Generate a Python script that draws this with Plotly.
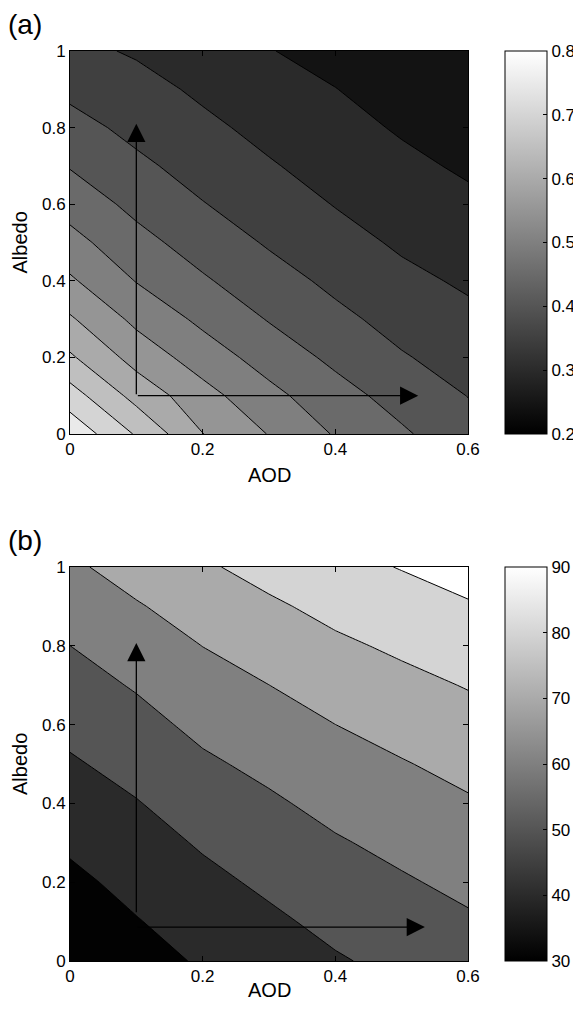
import plotly.graph_objects as go

# ---------------- data ----------------
AOD = [0.0, 0.1, 0.2, 0.3, 0.4, 0.5, 0.6]
ALBEDO = [0.0, 0.1, 0.2, 0.3, 0.4, 0.5, 0.6, 0.7, 0.8, 0.9, 1.0]

# panel (a): rows = albedo, columns = AOD
Z_A = [
    [0.787, 0.695, 0.601, 0.548, 0.496, 0.457, 0.418],
    [0.722, 0.633, 0.568, 0.514, 0.469, 0.431, 0.399],
    [0.657, 0.581, 0.526, 0.479, 0.439, 0.404, 0.380],
    [0.606, 0.538, 0.489, 0.447, 0.412, 0.383, 0.361],
    [0.557, 0.498, 0.456, 0.420, 0.389, 0.362, 0.343],
    [0.517, 0.466, 0.428, 0.395, 0.368, 0.343, 0.326],
    [0.480, 0.437, 0.402, 0.375, 0.348, 0.327, 0.310],
    [0.447, 0.410, 0.381, 0.354, 0.332, 0.311, 0.293],
    [0.417, 0.387, 0.360, 0.337, 0.316, 0.295, 0.277],
    [0.389, 0.366, 0.342, 0.321, 0.301, 0.278, 0.260],
    [0.362, 0.345, 0.324, 0.302, 0.283, 0.263, 0.244],
]

# panel (b)
Z_B = [
    [30.4, 36.2, 41.1, 45.1, 49.1, 52.4, 55.5],
    [34.1, 39.5, 44.3, 48.3, 52.4, 55.7, 58.8],
    [37.8, 42.8, 47.6, 51.7, 55.8, 59.0, 62.2],
    [41.5, 46.1, 51.0, 55.2, 59.1, 62.4, 65.6],
    [45.2, 49.5, 54.7, 58.6, 62.7, 65.9, 69.0],
    [48.9, 53.2, 58.5, 62.3, 66.3, 69.4, 72.7],
    [52.6, 57.0, 62.3, 66.1, 69.98, 73.4, 76.6],
    [56.3, 60.8, 66.2, 69.96, 74.1, 77.4, 80.5],
    [59.98, 65.0, 70.1, 74.2, 78.3, 81.6, 84.8],
    [64.2, 69.2, 74.4, 78.5, 82.7, 86.0, 89.2],
    [68.3, 74.0, 78.7, 83.3, 87.2, 90.4, 93.5],
]

LEVELS_A = (0.30, 0.75, 0.05)
LEVELS_B = (40, 90, 10)
CLIM_A = (0.2, 0.8)
CLIM_B = (30, 90)

CBAR_TICKS_A = [0.2, 0.3, 0.4, 0.5, 0.6, 0.7, 0.8]
CBAR_TICKS_B = [30, 40, 50, 60, 70, 80, 90]
X_TICKS = [0, 0.2, 0.4, 0.6]
X_TICKTEXT = ["0", "0.2", "0.4", "0.6"]
Y_TICKS = [0, 0.2, 0.4, 0.6, 0.8, 1.0]
Y_TICKTEXT = ["0", "0.2", "0.4", "0.6", "0.8", "1"]

# arrows: (tail_x, tail_y, head_x, head_y)
ARROWS_A = [(0.1, 0.1, 0.1, 0.81), (0.1, 0.1, 0.525, 0.1)]
ARROWS_B = [(0.1, 0.12, 0.1, 0.807), (0.1, 0.086, 0.535, 0.086)]

# ---------------- helpers ----------------
PAGE_OFF = 8             # default body margin of the page
W, H = 581 - PAGE_OFF, 1013 - PAGE_OFF
FONT = "Liberation Sans, Arial, Helvetica, sans-serif"


def px_x(p):
    return (p - PAGE_OFF) / W


def px_y(p):
    return 1 - (p - PAGE_OFF) / H


def gray(v, clim):
    g = (v - clim[0]) / (clim[1] - clim[0])
    g = min(max(g, 0.0), 1.0)
    c = int(round(g * 255))
    return f"rgb({c},{c},{c})"


def band_colorscale(z, levels, clim):
    start, end, size = levels
    n = int(round((end - start) / size)) + 1
    zmin = min(min(r) for r in z)
    vals = [zmin] + [start + k * size for k in range(n)]
    cs = []
    for j, v in enumerate(vals):
        col = gray(v, clim)
        lo = max(0.0, (j - 0.5) / n)
        hi = min(1.0, (j + 0.5) / n)
        cs.append([lo, col])
        cs.append([hi, col])
    return cs


GRAY_SCALE = [[0, "rgb(0,0,0)"], [1, "rgb(255,255,255)"]]

# plot areas in page pixels
PLOT_X = (70, 468)
PLOT_A_Y = (51, 434)
PLOT_B_Y = (567, 961)
CBAR_X = 505
CBAR_W = 42
TICK_FONT = 17

fig = go.Figure()


def add_panel(z, levels, clim, xa, ya, py, ticks):
    start, end, size = levels
    fig.add_trace(go.Contour(
        x=AOD, y=ALBEDO, z=z,
        xaxis=xa, yaxis=ya,
        contours=dict(start=start, end=end, size=size, coloring="fill", showlines=True),
        colorscale=band_colorscale(z, levels, clim),
        line=dict(color="black", width=1, smoothing=0),
        showscale=False, hoverinfo="skip",
    ))
    fig.add_trace(go.Scatter(
        x=[AOD[0]], y=[ALBEDO[0]], xaxis=xa, yaxis=ya, mode="markers",
        marker=dict(size=1, opacity=0, color=[clim[0]], colorscale=GRAY_SCALE,
                    cmin=clim[0], cmax=clim[1], showscale=True,
                    colorbar=dict(
                        x=px_x(CBAR_X), xanchor="left", xpad=0, ypad=0,
                        y=(px_y(py[0]) + px_y(py[1])) / 2, yanchor="middle",
                        len=(py[1] - py[0]) / H, lenmode="fraction",
                        thickness=CBAR_W, thicknessmode="pixels",
                        outlinecolor="black", outlinewidth=1,
                        tickvals=ticks, ticktext=[f"{t:g}" for t in ticks],
                        ticks="inside", ticklen=4, tickcolor="black",
                        tickfont=dict(size=TICK_FONT, family=FONT, color="black"),
                    )),
        hoverinfo="skip", showlegend=False,
    ))


add_panel(Z_A, LEVELS_A, CLIM_A, "x", "y", PLOT_A_Y, CBAR_TICKS_A)
add_panel(Z_B, LEVELS_B, CLIM_B, "x2", "y2", PLOT_B_Y, CBAR_TICKS_B)

axis_style = dict(showline=True, linecolor="black", linewidth=1, mirror="ticks",
                  ticks="inside", ticklen=5, tickcolor="black", showgrid=False,
                  zeroline=False, tickfont=dict(size=TICK_FONT, family=FONT, color="black"))

xdom = [px_x(PLOT_X[0]), px_x(PLOT_X[1])]
fig.update_layout(
    width=W, height=H, margin=dict(l=0, r=0, t=0, b=0, autoexpand=False),
    paper_bgcolor="white", plot_bgcolor="white", showlegend=False,
    font=dict(family=FONT, color="black"),
    xaxis=dict(domain=xdom, range=[0, 0.6], anchor="y", tickvals=X_TICKS, ticktext=X_TICKTEXT, **axis_style),
    yaxis=dict(domain=[px_y(PLOT_A_Y[1]), px_y(PLOT_A_Y[0])], range=[0, 1], anchor="x",
               tickvals=Y_TICKS, ticktext=Y_TICKTEXT, **axis_style),
    xaxis2=dict(domain=xdom, range=[0, 0.6], anchor="y2", tickvals=X_TICKS, ticktext=X_TICKTEXT, **axis_style),
    yaxis2=dict(domain=[px_y(PLOT_B_Y[1]), px_y(PLOT_B_Y[0])], range=[0, 1], anchor="x2",
                tickvals=Y_TICKS, ticktext=Y_TICKTEXT, **axis_style),
)

annots = []
for arrows, xr, yr in [(ARROWS_A, "x", "y"), (ARROWS_B, "x2", "y2")]:
    for tx, ty, hx, hy in arrows:
        annots.append(dict(x=hx, y=hy, ax=tx, ay=ty, xref=xr, yref=yr, axref=xr, ayref=yr,
                           text="", showarrow=True, arrowhead=2, arrowsize=2.8,
                           arrowwidth=1.3, arrowcolor="black"))

# panel labels
for lab, yc in [("(a)", 25), ("(b)", 540)]:
    annots.append(dict(x=px_x(6), y=px_y(yc), xref="paper", yref="paper", text=lab,
                       showarrow=False, xanchor="left", yanchor="middle",
                       font=dict(size=28, family=FONT, color="black")))

# axis titles
xc = (px_x(PLOT_X[0]) + px_x(PLOT_X[1])) / 2
for yc in [475, 990]:
    annots.append(dict(x=xc, y=px_y(yc), xref="paper", yref="paper", text="AOD",
                       showarrow=False, xanchor="center", yanchor="middle",
                       font=dict(size=20, family=FONT, color="black")))
for py in [PLOT_A_Y, PLOT_B_Y]:
    annots.append(dict(x=px_x(20), y=(px_y(py[0]) + px_y(py[1])) / 2, xref="paper", yref="paper",
                       text="Albedo", textangle=-90, showarrow=False,
                       xanchor="center", yanchor="middle",
                       font=dict(size=20, family=FONT, color="black")))

fig.update_layout(annotations=annots)
fig.write_html("out.html")
